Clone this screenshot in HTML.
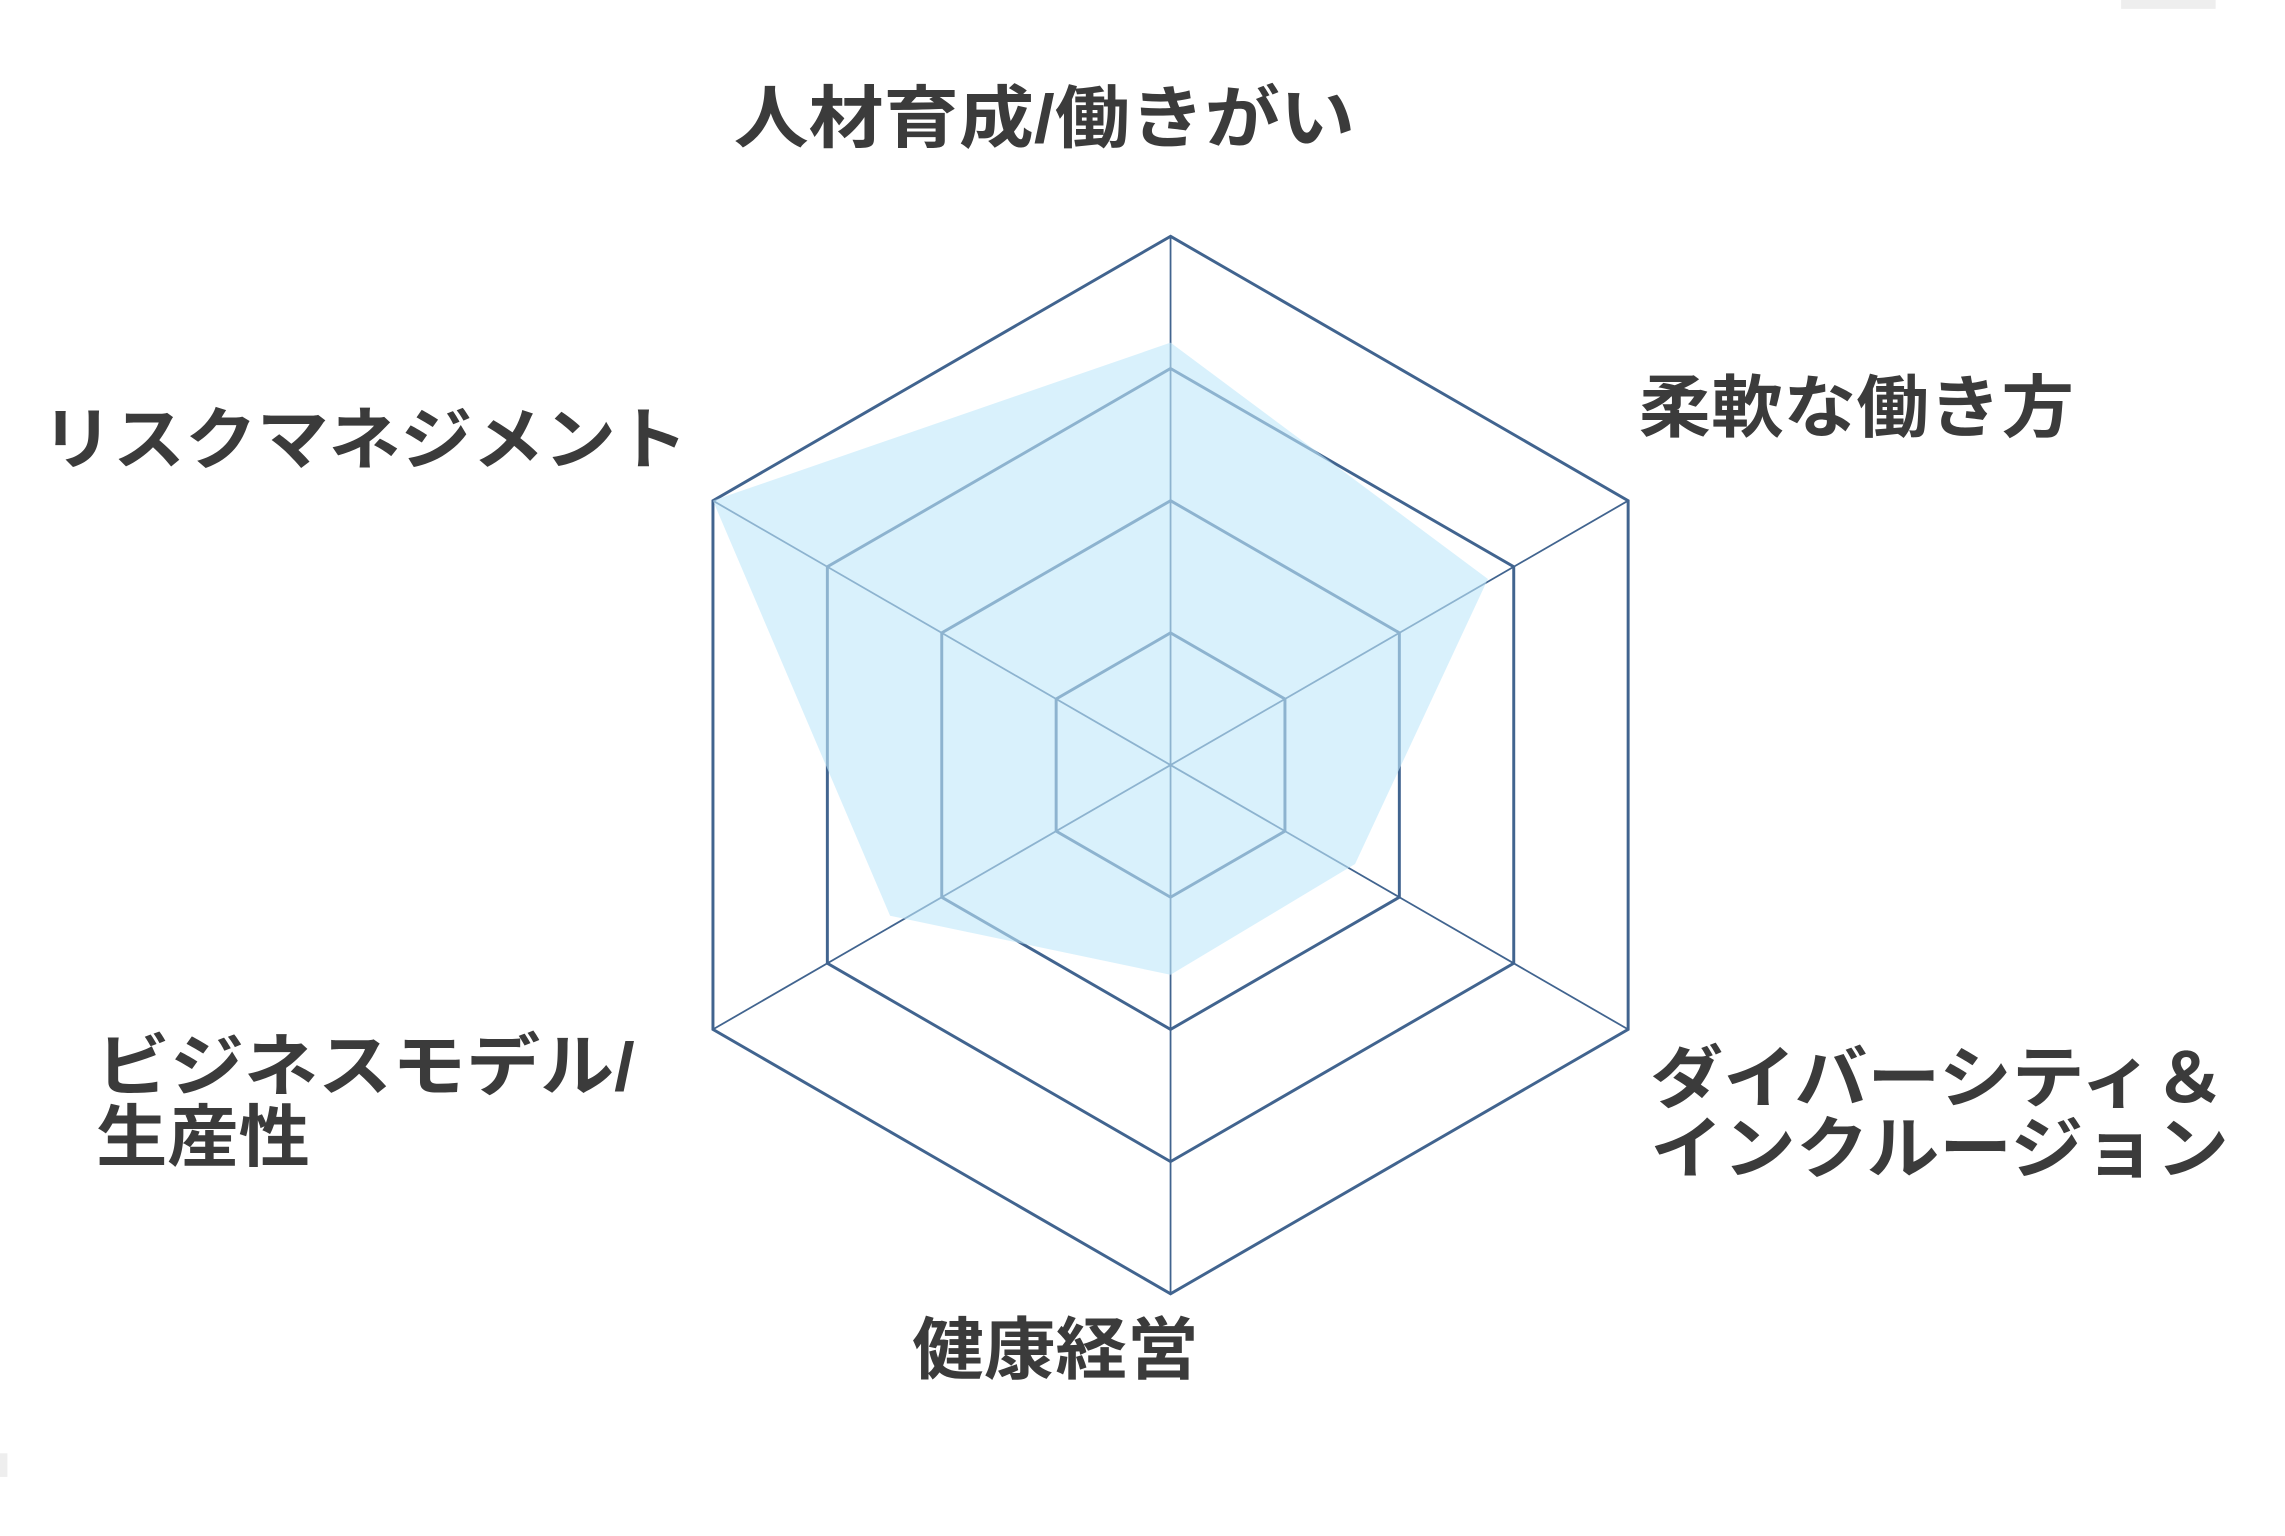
<!DOCTYPE html>
<html><head><meta charset="utf-8"><style>
html,body{margin:0;padding:0;background:#fff;}
svg{display:block;}
text{font-family:"Liberation Sans","Noto Sans CJK JP",sans-serif;font-weight:bold;fill:#3b3b3b;font-size:46px;}
</style></head><body>
<svg width="2285" height="1536" viewBox="0 0 1548 1040" preserveAspectRatio="none" xmlns="http://www.w3.org/2000/svg">
<rect width="1548" height="1040" fill="#fff"/>
<rect x="1437" y="0" width="64" height="6" fill="#eeeeee"/>
<rect x="0" y="984" width="5" height="16" fill="#eeeeee"/>
<g stroke="#41648f" stroke-width="1.2">
<line x1="793" y1="518" x2="793" y2="160"/>
<line x1="793" y1="518" x2="1103" y2="339"/>
<line x1="793" y1="518" x2="1103" y2="697"/>
<line x1="793" y1="518" x2="793" y2="876"/>
<line x1="793" y1="518" x2="483" y2="697"/>
<line x1="793" y1="518" x2="483" y2="339"/>
</g>
<g fill="none" stroke="#41648f" stroke-width="2">
<polygon points="793,428.5 870.5,473.25 870.5,562.75 793,607.5 715.5,562.75 715.5,473.25"/>
<polygon points="793,339 948,428.5 948,607.5 793,697 638,607.5 638,428.5"/>
<polygon points="793,249.5 1025.5,383.75 1025.5,652.25 793,786.5 560.5,652.25 560.5,383.75"/>
<polygon points="793,160 1103,339 1103,697 793,876 483,697 483,339"/>
</g>
<polygon points="793,232 1008,392 918,585 793,660 603,620 483,339" fill="rgb(192,232,250)" fill-opacity="0.6"/>
<text x="497" y="96" textLength="421" lengthAdjust="spacingAndGlyphs">人材育成/働きがい</text>
<text x="1110" y="292" textLength="295" lengthAdjust="spacingAndGlyphs">柔軟な働き方</text>
<text x="28" y="314" textLength="438" lengthAdjust="spacingAndGlyphs">リスクマネジメント</text>
<text x="65" y="738" textLength="365" lengthAdjust="spacingAndGlyphs">ビジネスモデル/</text>
<text x="65" y="786" textLength="145" lengthAdjust="spacingAndGlyphs">生産性</text>
<text x="1118" y="746" textLength="390" lengthAdjust="spacingAndGlyphs">ダイバーシティ＆</text>
<text x="1118" y="794" textLength="392" lengthAdjust="spacingAndGlyphs">インクルージョン</text>
<text x="618" y="930" textLength="194" lengthAdjust="spacingAndGlyphs">健康経営</text>
</svg>
</body></html>
